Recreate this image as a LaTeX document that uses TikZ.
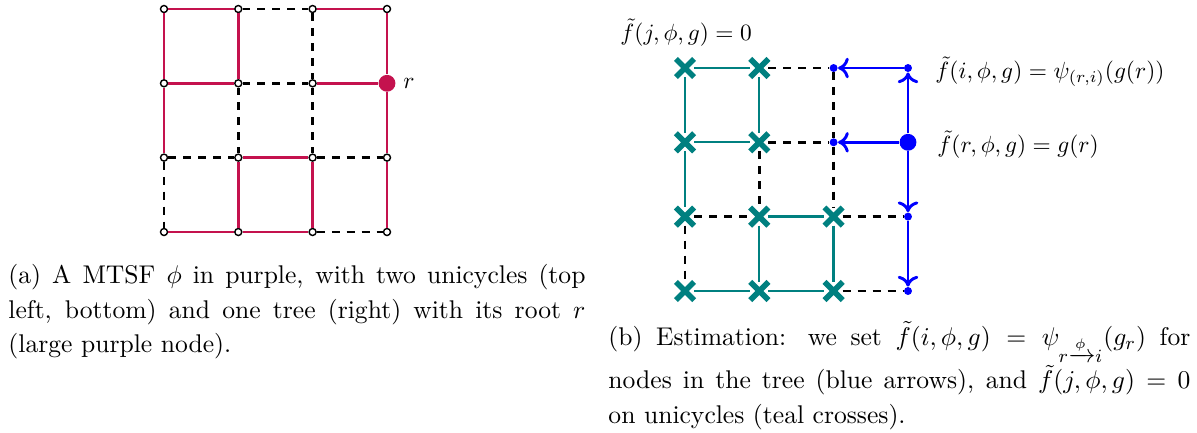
\documentclass[tikz,border=0pt]{standalone}
\usepackage{amsmath}
\usetikzlibrary{arrows.meta,shapes.misc}
\definecolor{mtsf}{RGB}{196,18,78}
\definecolor{tealc}{RGB}{0,128,128}
\tikzset{
 onode/.style={circle,draw=black,fill=white,line width=0.6pt,inner sep=0pt,minimum size=3pt},
 rootnode/.style={circle,fill=mtsf,inner sep=0pt,minimum size=7.2pt},
 pedge/.style={draw=mtsf,line width=1.25pt},
 dedge/.style={draw=black,line width=1.15pt,dash pattern=on 3.4pt off 3pt},
 tedge/.style={draw=tealc,line width=0.95pt},
 xnode/.style={cross out,draw=tealc,line width=2.4pt,inner sep=0pt,minimum size=5.4pt},
 bdot/.style={circle,fill=blue,inner sep=0pt,minimum size=3.4pt},
 broot/.style={circle,fill=blue,inner sep=0pt,minimum size=7.2pt},
 barrow/.style={draw=blue,line width=1.25pt,-{Computer Modern Rightarrow[length=4.6pt,width=8.8pt]}},
 lbl/.style={inner sep=0pt,anchor=west},
 captext/.style={inner sep=0pt,anchor=north west,align=justify,font=\fontsize{10.95}{14.7}\selectfont},
}
\begin{document}
\begin{tikzpicture}[x=0.4277pt,y=-0.4277pt]
\useasboundingbox (0,0) rectangle (1197,432);
% ---------- (a) ----------
\node[onode] (a00) at (164,9) {};
\node[onode] (a01) at (238.3,9) {};
\node[onode] (a02) at (312.6,9) {};
\node[onode] (a03) at (387,9) {};
\node[onode] (a10) at (164,83.3) {};
\node[onode] (a11) at (238.3,83.3) {};
\node[onode] (a12) at (312.6,83.3) {};
\node[rootnode] (a13) at (387,83.3) {};
\node[onode] (a20) at (164,157.6) {};
\node[onode] (a21) at (238.3,157.6) {};
\node[onode] (a22) at (312.6,157.6) {};
\node[onode] (a23) at (387,157.6) {};
\node[onode] (a30) at (164,232) {};
\node[onode] (a31) at (238.3,232) {};
\node[onode] (a32) at (312.6,232) {};
\node[onode] (a33) at (387,232) {};
\node[inner sep=0pt,anchor=west] (rlab) at (403,83.3) {$r$};
% purple edges
\draw[pedge] (a00) -- (a01);
\draw[pedge] (a02) -- (a03);
\draw[pedge] (a10) -- (a11);
\draw[pedge] (a12) -- (a13);
\draw[pedge] (a21) -- (a22);
\draw[pedge] (a30) -- (a31);
\draw[pedge] (a31) -- (a32);
\draw[pedge] (a00) -- (a10);
\draw[pedge] (a10) -- (a20);
\draw[pedge] (a01) -- (a11);
\draw[pedge] (a21) -- (a31);
\draw[pedge] (a22) -- (a32);
\draw[pedge] (a03) -- (a13);
\draw[pedge] (a13) -- (a23);
\draw[pedge] (a23) -- (a33);
% dashed edges
\draw[dedge] (a01) -- (a02);
\draw[dedge] (a11) -- (a12);
\draw[dedge] (a20) -- (a21);
\draw[dedge] (a22) -- (a23);
\draw[dedge] (a32) -- (a33);
\draw[dedge] (a20) -- (a30);
\draw[dedge] (a11) -- (a21);
\draw[dedge] (a02) -- (a12);
\draw[dedge] (a12) -- (a22);
% ---------- (b) ----------
\node[xnode] (b00) at (685,68) {};
\node[xnode] (b01) at (759.3,68) {};
\node[bdot] (b02) at (833.6,68) {};
\node[bdot] (b03) at (908,68) {};
\node[xnode] (b10) at (685,142.3) {};
\node[xnode] (b11) at (759.3,142.3) {};
\node[bdot] (b12) at (833.6,142.3) {};
\node[broot] (b13) at (908,142.3) {};
\node[xnode] (b20) at (685,216.6) {};
\node[xnode] (b21) at (759.3,216.6) {};
\node[xnode] (b22) at (833.6,216.6) {};
\node[bdot] (b23) at (908,216.6) {};
\node[xnode] (b30) at (685,291) {};
\node[xnode] (b31) at (759.3,291) {};
\node[xnode] (b32) at (833.6,291) {};
\node[bdot] (b33) at (908,291) {};
% teal edges
\draw[tedge] (b00) -- (b01);
\draw[tedge] (b10) -- (b11);
\draw[tedge] (b21) -- (b22);
\draw[tedge] (b30) -- (b31);
\draw[tedge] (b31) -- (b32);
\draw[tedge] (b00) -- (b10);
\draw[tedge] (b10) -- (b20);
\draw[tedge] (b01) -- (b11);
\draw[tedge] (b21) -- (b31);
\draw[tedge] (b22) -- (b32);
% dashed edges
\draw[dedge] (b01) -- (b02);
\draw[dedge] (b11) -- (b12);
\draw[dedge] (b20) -- (b21);
\draw[dedge] (b22) -- (b23);
\draw[dedge] (b32) -- (b33);
\draw[dedge] (b20) -- (b30);
\draw[dedge] (b11) -- (b21);
\draw[dedge] (b02) -- (b12);
\draw[dedge] (b12) -- (b22);
% blue arrows
\draw[barrow] (b13) -- (b03);
\draw[barrow] (b03) -- (b02);
\draw[barrow] (b13) -- (b12);
\draw[barrow] (b13) -- (b23);
\draw[barrow] (b23) -- (b33);
% labels
\node[lbl] (lj) at (620,33) {$\tilde f(j,\phi,g)=0$};
\node[lbl] (li) at (935,72) {$\tilde f(i,\phi,g)=\psi_{(r,i)}(g(r))$};
\node[lbl] (lr) at (937,145) {$\tilde f(r,\phi,g)=g(r)$};
% captions
\node[captext,text width=246.8pt] (capa) at (8,264) {(a) A MTSF $\phi$ in purple, with two unicycles (top\linebreak left, bottom) and one tree (right) with its root $r$\linebreak (large purple node).};
\node[captext,text width=248.9pt] (capb) at (608,321) {(b) Estimation: we set $\tilde f(i,\phi,g)=\psi_{r\xrightarrow{\phi}i}(g_r)$ for\linebreak nodes in the tree (blue arrows), and $\tilde f(j,\phi,g)=0$\linebreak on unicycles (teal crosses).};
\end{tikzpicture}
\end{document}
